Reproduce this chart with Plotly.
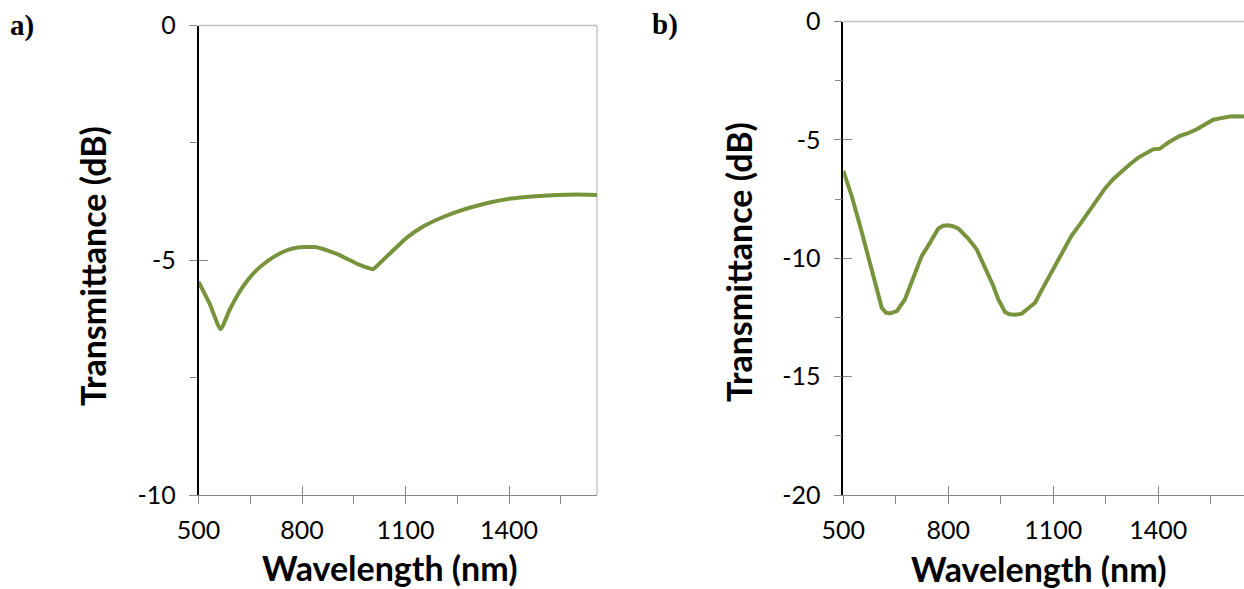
import plotly.graph_objects as go

# Panel a) data
wl_a = [500, 532, 564, 590, 619, 643, 667, 691, 716, 740, 764, 788, 812, 837,
        861, 885, 909, 933, 958, 982, 1006, 1030, 1054, 1083, 1102, 1151, 1199,
        1248, 1296, 1344, 1393, 1441, 1490, 1538, 1596, 1655]
tr_a = [-5.46, -5.92, -6.47, -6.06, -5.67, -5.42, -5.22, -5.07, -4.94, -4.84,
        -4.77, -4.73, -4.72, -4.72, -4.76, -4.82, -4.89, -4.98, -5.07, -5.14,
        -5.19, -5.03, -4.86, -4.66, -4.53, -4.28, -4.11, -3.97, -3.86, -3.77,
        -3.70, -3.66, -3.63, -3.61, -3.60, -3.61]

# Panel b) data
wl_b = [500, 524, 548, 571, 595, 610, 622, 633, 653, 676, 700, 724, 748, 771,
        785, 800, 815, 829, 857, 881, 905, 929, 943, 962, 975, 991, 1010, 1030,
        1048, 1065, 1081, 1105, 1129, 1152, 1176, 1200, 1224, 1248, 1271, 1295,
        1319, 1343, 1367, 1385, 1405, 1430, 1462, 1485, 1510, 1535, 1557, 1580,
        1605, 1625, 1645]
tr_b = [-6.31, -7.37, -8.64, -9.91, -11.32, -12.09, -12.30, -12.33, -12.23,
        -11.74, -10.82, -9.91, -9.34, -8.75, -8.63, -8.61, -8.66, -8.75, -9.17,
        -9.62, -10.40, -11.18, -11.74, -12.27, -12.37, -12.39, -12.34, -12.10,
        -11.88, -11.40, -10.96, -10.30, -9.62, -9.05, -8.57, -8.05, -7.51, -7.05,
        -6.66, -6.33, -6.03, -5.75, -5.53, -5.40, -5.37, -5.10, -4.83, -4.72,
        -4.55, -4.35, -4.15, -4.08, -4.01, -4.00, -4.01]

x_ticks = [500, 800, 1100, 1400]
x_minor = [650, 950, 1250, 1550]
y_ticks_a = [0, -5, -10]
y_minor_a = [-2.5, -7.5]
y_ticks_b = [0, -5, -10, -15, -20]
y_minor_b = [-2.5, -7.5, -12.5, -17.5]

GREEN = "#77933C"
GRAY = "#868686"
LIGHT = "#BFBFBF"
TICKFONT = dict(family="Lato", size=25, color="#000000")
TITLEFONT = dict(family="Lato", size=34, color="#000000", weight="bold")

W, H = 1244, 589
dom_ya = [1 - 495 / H, 1 - 25.5 / H]
dom_yb = [1 - 495 / H, 1 - 21.5 / H]
dom_xa = [198.5 / W, 597 / W]
dom_xb = [843.3 / W, 1.0]
rng_xa = [500, 1655]
rng_xb = [500, 1645]

fig = go.Figure()
fig.add_trace(go.Scatter(x=wl_a, y=tr_a, mode="lines", xaxis="x", yaxis="y",
                         line=dict(color=GREEN, width=4, shape="spline", smoothing=0.5),
                         showlegend=False))
fig.add_trace(go.Scatter(x=wl_b, y=tr_b, mode="lines", xaxis="x2", yaxis="y2",
                         line=dict(color=GREEN, width=4), showlegend=False))
# invisible traces to host the inside-tick overlay axes
fig.add_trace(go.Scatter(x=wl_a, y=tr_a, mode="lines", xaxis="x3", yaxis="y3",
                         line=dict(color="rgba(0,0,0,0)", width=0), showlegend=False,
                         hoverinfo="skip"))
fig.add_trace(go.Scatter(x=wl_b, y=tr_b, mode="lines", xaxis="x4", yaxis="y4",
                         line=dict(color="rgba(0,0,0,0)", width=0), showlegend=False,
                         hoverinfo="skip"))


def xax(domain, rng, anchor):
    return dict(domain=domain, range=rng, anchor=anchor, showgrid=False, zeroline=False,
                automargin=False,
                showline=True, linecolor=GRAY, linewidth=1.3,
                tickmode="array", tickvals=x_ticks, ticktext=[str(v) for v in x_ticks],
                ticks="outside", ticklen=8, tickwidth=1.3, tickcolor=GRAY,
                ticklabelstandoff=5, tickfont=TICKFONT,
                minor=dict(tickvals=x_minor, ticks="outside", ticklen=8,
                           tickwidth=1.3, tickcolor=GRAY, showgrid=False))


def yax(domain, rng, anchor, tv, minor):
    return dict(domain=domain, range=rng, anchor=anchor, showgrid=False, zeroline=False,
                automargin=False,
                showline=True, linecolor="#000000", linewidth=1.5,
                tickmode="array", tickvals=tv, ticktext=[str(v) for v in tv],
                ticks="outside", ticklen=8, tickwidth=1.3, tickcolor=GRAY,
                ticklabelstandoff=8, tickfont=TICKFONT,
                minor=dict(tickvals=minor, ticks="outside", ticklen=7,
                           tickwidth=1.3, tickcolor=GRAY, showgrid=False))


def xin(domain, rng, anchor, over):
    return dict(domain=domain, range=rng, anchor=anchor, overlaying=over, showgrid=False,
                zeroline=False, showline=False, showticklabels=False, automargin=False,
                tickmode="array", tickvals=x_ticks, ticks="inside", ticklen=9,
                tickwidth=1.3, tickcolor=GRAY)


def yin(domain, rng, anchor, over, tv):
    return dict(domain=domain, range=rng, anchor=anchor, overlaying=over, showgrid=False,
                zeroline=False, showline=False, showticklabels=False, automargin=False,
                tickmode="array", tickvals=tv, ticks="inside", ticklen=9,
                tickwidth=1.3, tickcolor=GRAY)


fig.update_layout(
    template="none",
    width=W, height=H, margin=dict(l=0, r=0, t=0, b=0, pad=0, autoexpand=False),
    paper_bgcolor="white", plot_bgcolor="white", showlegend=False,
    xaxis=xax(dom_xa, rng_xa, "y"),
    yaxis=yax(dom_ya, [-10, 0], "x", y_ticks_a, y_minor_a),
    xaxis2=xax(dom_xb, rng_xb, "y2"),
    yaxis2=yax(dom_yb, [-20, 0], "x2", y_ticks_b, y_minor_b),
    xaxis3=xin(dom_xa, rng_xa, "y3", "x"),
    yaxis3=yin(dom_ya, [-10, 0], "x3", "y", y_ticks_a),
    xaxis4=xin(dom_xb, rng_xb, "y4", "x2"),
    yaxis4=yin(dom_yb, [-20, 0], "x4", "y2", y_ticks_b),
)

# plot-area borders (top and right) in light gray
fig.add_shape(type="line", xref="x domain", yref="y domain", x0=0, x1=1, y0=1, y1=1,
              line=dict(color=LIGHT, width=1.3), layer="below")
fig.add_shape(type="line", xref="x domain", yref="y domain", x0=1, x1=1, y0=0, y1=1,
              line=dict(color=LIGHT, width=1.3), layer="below")
fig.add_shape(type="line", xref="x2 domain", yref="y2 domain", x0=0, x1=1, y0=1, y1=1,
              line=dict(color=LIGHT, width=1.3), layer="below")

ann = [
    dict(text="Transmittance (dB)", x=92 / W, y=1 - 266 / H, textangle=-90),
    dict(text="Transmittance (dB)", x=738 / W, y=1 - 262 / H, textangle=-90),
    dict(text="Wavelength (nm)", x=390 / W, y=1 - 567 / H, textangle=0),
    dict(text="Wavelength (nm)", x=1038 / W, y=1 - 568 / H, textangle=0),
]
for a in ann:
    fig.add_annotation(text=a["text"], x=a["x"], y=a["y"], xref="paper", yref="paper",
                       xanchor="center", yanchor="middle", textangle=a["textangle"],
                       showarrow=False, font=TITLEFONT)

for lab, xp, yp in [("a)", 8, 26), ("b)", 650, 24)]:
    fig.add_annotation(text=lab, x=xp / W, y=1 - yp / H, xref="paper", yref="paper",
                       xanchor="left", yanchor="middle", showarrow=False,
                       font=dict(family="Liberation Serif", size=29, color="#000000",
                                 weight="bold"))

fig.write_html("out.html")
